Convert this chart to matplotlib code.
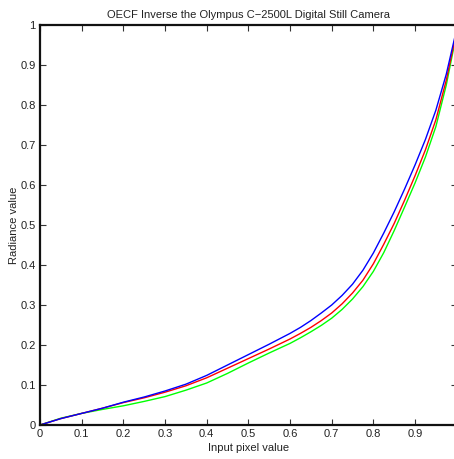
import matplotlib
matplotlib.use("Agg")
import matplotlib.pyplot as plt

plt.rcParams['font.family'] = ['Liberation Sans', 'DejaVu Sans']

# Normalised input pixel value and inverse OECF radiance per colour channel
pixel = [0.000, 0.050, 0.100, 0.150, 0.200, 0.250, 0.300, 0.350, 0.400, 0.450,
         0.500, 0.550, 0.600, 0.625, 0.650, 0.675, 0.700, 0.725, 0.750, 0.775,
         0.800, 0.825, 0.850, 0.875, 0.900, 0.925, 0.950, 0.975, 1.000]
radiance_green = [0.000, 0.017, 0.029, 0.039, 0.048, 0.059, 0.071, 0.087, 0.105, 0.129,
                  0.155, 0.180, 0.204, 0.218, 0.233, 0.249, 0.267, 0.289, 0.315, 0.346,
                  0.384, 0.431, 0.486, 0.545, 0.605, 0.670, 0.746, 0.850, 0.980]
radiance_red = [0.000, 0.016, 0.029, 0.042, 0.056, 0.068, 0.082, 0.098, 0.118, 0.142,
                0.166, 0.190, 0.215, 0.229, 0.244, 0.261, 0.280, 0.303, 0.330, 0.362,
                0.403, 0.452, 0.504, 0.562, 0.623, 0.688, 0.763, 0.862, 0.985]
radiance_blue = [0.000, 0.016, 0.029, 0.042, 0.057, 0.070, 0.085, 0.102, 0.124, 0.150,
                 0.176, 0.202, 0.229, 0.244, 0.261, 0.280, 0.300, 0.324, 0.352, 0.387,
                 0.430, 0.480, 0.533, 0.590, 0.650, 0.714, 0.787, 0.877, 0.990]

x_ticks = [0, 0.1, 0.2, 0.3, 0.4, 0.5, 0.6, 0.7, 0.8, 0.9, 1]
x_tick_labels = ['0', '0.1', '0.2', '0.3', '0.4', '0.5', '0.6', '0.7', '0.8', '0.9', '']
y_ticks = [0, 0.1, 0.2, 0.3, 0.4, 0.5, 0.6, 0.7, 0.8, 0.9, 1]
y_tick_labels = ['0', '0.1', '0.2', '0.3', '0.4', '0.5', '0.6', '0.7', '0.8', '0.9', '1']

W, H = 454, 459
fig = plt.figure(figsize=(W / 100, H / 100), dpi=100)
ax = fig.add_axes([40 / W, 34 / H, 416.7 / W, 400 / H])

ax.plot(pixel, radiance_green, color='#00ff00', lw=1.0)
ax.plot(pixel, radiance_red, color='#ff0000', lw=1.0)
ax.plot(pixel, radiance_blue, color='#0000ff', lw=1.0)

ax.set_xlim(0, 1)
ax.set_ylim(0, 1)
ax.set_xticks(x_ticks)
ax.set_xticklabels(x_tick_labels)
ax.set_yticks(y_ticks)
ax.set_yticklabels(y_tick_labels)

for s in ax.spines.values():
    s.set_linewidth(1.6)
    s.set_color('#111111')

ax.tick_params(direction='in', length=4, width=0.8, color='#333333',
               top=True, right=True, labelsize=8, pad=3, labelcolor='#222222')

ax.set_title('OECF Inverse the Olympus C\u22122500L Digital Still Camera',
             fontsize=8, pad=5, color='#222222')
ax.set_xlabel('Input pixel value', fontsize=8, labelpad=3, color='#222222')
ax.set_ylabel('Radiance value', fontsize=8, labelpad=1, color='#222222')

fig.savefig('out.png', dpi=100)
